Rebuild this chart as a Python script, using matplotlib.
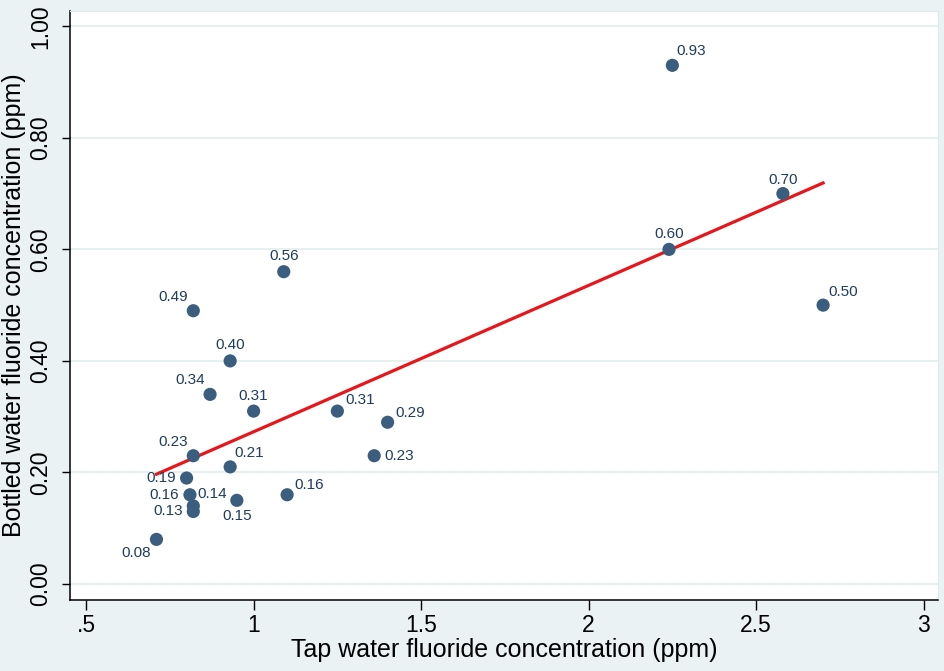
import numpy as np
import matplotlib.pyplot as plt

# Tap vs bottled water fluoride (ppm)
tap = [1.09, 0.82, 0.93, 0.87, 1.00, 1.25, 1.40, 1.36, 0.82, 0.93, 0.80,
       0.81, 0.82, 0.82, 0.95, 1.10, 0.71, 2.25, 2.58, 2.24, 2.70]
bottled = [0.56, 0.49, 0.40, 0.34, 0.31, 0.31, 0.29, 0.23, 0.23, 0.21, 0.19,
           0.16, 0.14, 0.13, 0.15, 0.16, 0.08, 0.93, 0.70, 0.60, 0.50]

x_ticks = [0.5, 1, 1.5, 2, 2.5, 3]
x_ticklabels = ['.5', '1', '1.5', '2', '2.5', '3']
y_ticks = [0.0, 0.2, 0.4, 0.6, 0.8, 1.0]

# label offsets in points (clock positions of the marker labels)
label_off = [(0, 11.5), (-14.4, 10), (0, 11.5), (-14.4, 10), (0, 11),
             (16.5, 8), (16.5, 7), (18, 0), (-14.4, 10), (13.7, 10),
             (-18, 0), (-18.7, 0), (13.7, 8.6), (-18, 0), (0, -11.5),
             (16, 7), (-14.4, -10), (13.7, 10), (0, 10), (0, 11), (14.4, 9.4)]

plt.rcParams['font.family'] = ['Liberation Sans', 'DejaVu Sans']

bg = '#eaf2f3'
fig = plt.figure(figsize=(9.45, 6.71), dpi=100, facecolor=bg)
ax = fig.add_axes([0.0741, 0.1058, 0.9185, 0.8778])
ax.set_facecolor('white')

ax.set_xlim(0.452, 3.043)
ax.set_ylim(-0.0287, 1.0274)

ax.set_yticks(y_ticks)
ax.set_yticklabels([f'{v:.2f}' for v in y_ticks], rotation=90, va='center')
ax.set_xticks(x_ticks)
ax.set_xticklabels(x_ticklabels)
ax.grid(axis='y', color='#e3eded', linewidth=1.2)
ax.set_axisbelow(True)

ax.tick_params(axis='both', direction='out', width=1, colors='black',
               labelsize=16.5)
ax.tick_params(axis='y', length=6, pad=7)
ax.tick_params(axis='x', length=7, pad=3)

for s in ['top', 'right']:
    ax.spines[s].set_color('#dfe9eb')
for s in ['left', 'bottom']:
    ax.spines[s].set_color('black')
    ax.spines[s].set_linewidth(1.1)

# fitted line
xa = np.array(tap)
ya = np.array(bottled)
m, b = np.polyfit(xa, ya, 1)
xl = np.array([xa.min(), xa.max()])
ax.plot(xl, m * xl + b, color='#e8161b', linewidth=2.3, zorder=2)

ax.scatter(tap, bottled, s=90, color='#3b5e7e', edgecolors='none', zorder=3)

for xv, yv, off in zip(tap, bottled, label_off):
    ax.annotate(f'{yv:.2f}', (xv, yv), xytext=off, textcoords='offset points',
                ha='center', va='center', fontsize=11, color='#1f3d5c',
                zorder=4)

ax.set_xlabel('Tap water fluoride concentration (ppm)', fontsize=18, labelpad=1)
ax.set_ylabel('Bottled water fluoride concentration (ppm)', fontsize=18)
ax.yaxis.set_label_coords(-0.0507, 0.5)

fig.savefig('out.png', dpi=100, facecolor=bg)
